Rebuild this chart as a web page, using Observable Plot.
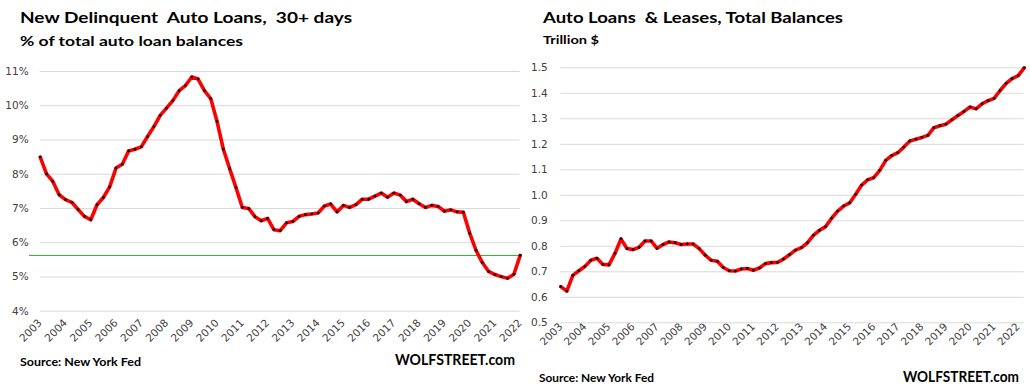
<!DOCTYPE html>
<html>
<head>
<meta charset="utf-8">
<script src="https://cdn.jsdelivr.net/npm/d3@7"></script>
<script src="https://cdn.jsdelivr.net/npm/@observablehq/plot@0.6"></script>
<style>
  html, body { margin: 0; padding: 0; background: #fff; }
  #page { position: relative; width: 1030px; height: 389px; overflow: hidden; background: #fff; }
  .chart { position: absolute; top: 0; }
  #overlay { position: absolute; left: 0; top: 0; pointer-events: none; }
  #overlay text { font-family: Lato, "Open Sans", sans-serif; font-weight: 700; fill: #000; }
</style>
</head>
<body>
<div id="page">
  <div id="left" class="chart" style="left:0px"></div>
  <div id="right" class="chart" style="left:525px"></div>
  <svg id="overlay" width="1030" height="389"></svg>
</div>
<script>
// ---------- DATA ----------
const startYear = 2003;               // first quarter: 2003 Q1
const yearTicks = d3.range(2003, 2023);

// New delinquent auto loans, 30+ days, % of total auto loan balances (quarterly, 2003Q1-2022Q1)
const delinquentPct = [
  8.50, 8.01, 7.79, 7.40, 7.26, 7.18, 6.97, 6.77, 6.67, 7.11,
  7.32, 7.63, 8.18, 8.29, 8.68, 8.73, 8.80, 9.10, 9.39, 9.72,
  9.93, 10.15, 10.44, 10.59, 10.84, 10.78, 10.44, 10.21, 9.54, 8.73,
  8.16, 7.61, 7.03, 7.00, 6.76, 6.64, 6.71, 6.38, 6.35, 6.58,
  6.62, 6.77, 6.82, 6.84, 6.87, 7.07, 7.13, 6.90, 7.09, 7.03,
  7.11, 7.27, 7.27, 7.36, 7.45, 7.33, 7.45, 7.39, 7.20, 7.27,
  7.14, 7.03, 7.09, 7.06, 6.92, 6.96, 6.90, 6.89, 6.28, 5.78,
  5.42, 5.16, 5.07, 5.01, 4.96, 5.08, 5.63
];
const delinquentTicks = [4, 5, 6, 7, 8, 9, 10, 11];

// Auto loans & leases, total balances, trillion $ (quarterly, 2003Q1-2022Q2)
const balancesTrillion = [
  0.642, 0.624, 0.686, 0.704, 0.721, 0.745, 0.753, 0.729, 0.727, 0.772,
  0.829, 0.791, 0.787, 0.796, 0.821, 0.821, 0.792, 0.807, 0.817, 0.814,
  0.807, 0.809, 0.809, 0.791, 0.765, 0.745, 0.741, 0.717, 0.704, 0.703,
  0.711, 0.713, 0.706, 0.715, 0.732, 0.736, 0.737, 0.750, 0.767, 0.785,
  0.795, 0.814, 0.844, 0.863, 0.877, 0.910, 0.938, 0.958, 0.970, 1.004,
  1.040, 1.061, 1.069, 1.098, 1.137, 1.156, 1.167, 1.189, 1.213, 1.220,
  1.227, 1.235, 1.265, 1.273, 1.279, 1.296, 1.313, 1.329, 1.346, 1.339,
  1.359, 1.371, 1.380, 1.411, 1.439, 1.458, 1.469, 1.500
];
const balanceTicks = [0.5, 0.6, 0.7, 0.8, 0.9, 1.0, 1.1, 1.2, 1.3, 1.4, 1.5];

// ---------- TEXT ----------
const leftTitle = "New Delinquent  Auto Loans,  30+ days";
const leftSubtitle = "% of total auto loan balances";
const rightTitle = "Auto Loans  & Leases, Total Balances";
const rightSubtitle = "Trillion $";
const sourceText = "Source: New York Fed";
const brandText = "WOLFSTREET.com";

// ---------- BUILD ----------
const toSeries = arr => arr.map((v, i) => ({t: startYear + i / 4, v}));
const dData = toSeries(delinquentPct);
const bData = toSeries(balancesTrillion);

const axisStyle = {fontFamily: "'DejaVu Sans', sans-serif", fontSize: "10.5px", color: "#404040", background: "white"};

const leftChart = Plot.plot({
  width: 525, height: 389,
  marginLeft: 39.7, marginRight: 5.3, marginTop: 71, marginBottom: 78.3,
  style: axisStyle,
  x: {domain: [2003, 2022], ticks: yearTicks, tickFormat: d => String(d), tickRotate: -45, tickSize: 0, tickPadding: 10, label: null},
  y: {domain: [4, 11], ticks: delinquentTicks, tickFormat: d => d + "%", tickSize: 0, tickPadding: 11.5, label: null},
  marks: [
    Plot.ruleY(delinquentTicks, {stroke: "#d9d9d9", strokeWidth: 1}),
    Plot.ruleY([delinquentPct[delinquentPct.length - 1]], {stroke: "#3a9a45", strokeWidth: 1, insetLeft: -10.7}),
    Plot.line(dData, {x: "t", y: "v", stroke: "#ff0000", strokeWidth: 3.6, strokeLinejoin: "round"}),
    Plot.dot(dData, {x: "t", y: "v", r: 1.4, fill: "#111", stroke: "none"})
  ]
});
document.getElementById("left").appendChild(leftChart);

const rightChart = Plot.plot({
  width: 505, height: 389,
  marginLeft: 35.3, marginRight: 6.3, marginTop: 67.3, marginBottom: 66.7,
  style: axisStyle,
  x: {domain: [2003, 2022.25], ticks: yearTicks, tickFormat: d => String(d), tickRotate: -45, tickSize: 0, tickPadding: 2, label: null},
  y: {domain: [0.5, 1.5], ticks: balanceTicks, tickFormat: d3.format(".1f"), tickSize: 0, tickPadding: 13, label: null},
  marks: [
    Plot.ruleY(balanceTicks, {stroke: "#d9d9d9", strokeWidth: 1}),
    Plot.line(bData, {x: "t", y: "v", stroke: "#ff0000", strokeWidth: 3.6, strokeLinejoin: "round"}),
    Plot.dot(bData, {x: "t", y: "v", r: 1.4, fill: "#111", stroke: "none"})
  ]
});
document.getElementById("right").appendChild(rightChart);

// overlay texts (baseline positioned, fitted to measured widths)
const overlay = d3.select("#overlay");
const texts = [
  {s: leftTitle,     x: 20,  y: 23,   size: 15.5, w: 332},
  {s: leftSubtitle,  x: 20,  y: 46.3, size: 13.5, w: 223},
  {s: rightTitle,    x: 543, y: 23,   size: 15.5, w: 300},
  {s: rightSubtitle, x: 543, y: 44.3, size: 12,   w: 56},
  {s: sourceText,    x: 20,  y: 366,  size: 12,   w: 121},
  {s: brandText,     x: 395, y: 364.5,size: 14.5, w: 120},
  {s: sourceText,    x: 539, y: 382.3,size: 12,   w: 115},
  {s: brandText,     x: 903, y: 382.3,size: 14.5, w: 116}
];
for (const t of texts) {
  overlay.append("text")
    .attr("x", t.x).attr("y", t.y)
    .attr("font-size", t.size)
    .attr("textLength", t.w)
    .attr("lengthAdjust", "spacingAndGlyphs")
    .style("white-space", "pre")
    .attr("xml:space", "preserve")
    .text(t.s);
}
</script>
</body>
</html>
